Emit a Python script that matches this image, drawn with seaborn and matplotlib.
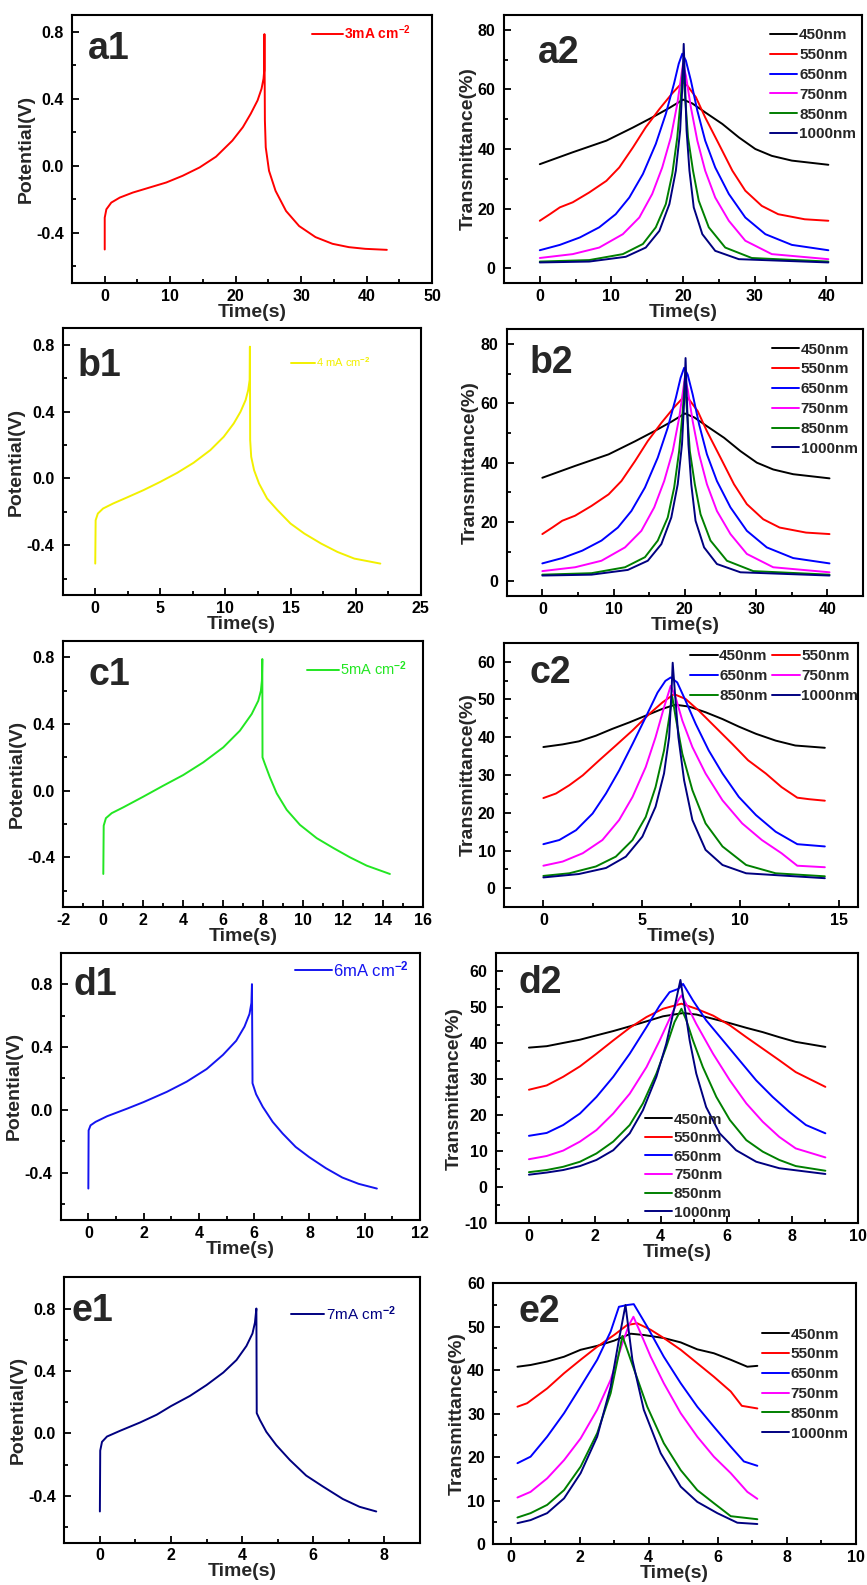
import numpy as np
import pandas as pd
import matplotlib
matplotlib.use("Agg")
import matplotlib.pyplot as plt
from matplotlib.ticker import MultipleLocator, FormatStrFormatter
import seaborn as sns

# ---------------- data ----------------
wavelengths = ["450nm", "550nm", "650nm", "750nm", "850nm", "1000nm"]
wl_colors = ["#000000", "#FF0000", "#0000FF", "#FF00FF", "#008000", "#000080"]

# left column: galvanostatic charge/discharge curves
a1_time = [0, 0.0, 0.25, 1.0, 2.3, 4.3, 6.85, 9.4, 11.9, 14.5, 17.0, 19.5, 21.1, 22.3, 23.35, 23.96, 24.26, 24.37,
           24.4,
           24.47, 24.6, 25.1, 26.1, 27.7, 29.7, 32.2, 34.8, 37.3, 39.8, 43.1]
a1_pot = [-0.50, -0.31, -0.26, -0.22, -0.19, -0.16, -0.13, -0.10, -0.06, -0.01, 0.054, 0.15, 0.23, 0.31, 0.39, 0.46, 0.52, 0.57,
          0.786,
          0.27, 0.11, -0.03, -0.15, -0.27, -0.36, -0.426, -0.466, -0.486, -0.496, -0.502]

b1_time = [0, 0.03, 0.2, 0.6, 1.37, 2.4, 3.7, 5.0, 6.3, 7.55, 8.84, 9.87, 10.64, 11.16, 11.55, 11.75, 11.86,
           11.88,
           11.9, 11.98, 12.2, 12.58, 13.2, 14.0, 15.0, 16.06, 17.35, 18.6, 19.9, 21.9]
b1_pot = [-0.51, -0.25, -0.21, -0.18, -0.15, -0.115, -0.07, -0.02, 0.034, 0.094, 0.17, 0.25, 0.33, 0.40, 0.47, 0.53, 0.59,
          0.79,
          0.23, 0.13, 0.05, -0.03, -0.12, -0.19, -0.27, -0.33, -0.39, -0.44, -0.48, -0.51]

c1_time = [0, 0.02, 0.13, 0.42, 1.0, 2, 3, 4, 5, 6, 6.83, 7.42, 7.75, 7.88, 7.93,
           7.95,
           7.96, 8.08, 8.33, 8.67, 9.17, 9.83, 10.67, 11.5, 12.33, 13.17, 14.33]
c1_pot = [-0.50, -0.21, -0.165, -0.135, -0.10, -0.036, 0.03, 0.094, 0.17, 0.26, 0.36, 0.46, 0.54, 0.60, 0.66,
          0.79,
          0.20, 0.16, 0.08, -0.016, -0.115, -0.205, -0.285, -0.344, -0.40, -0.45, -0.50]

d1_time = [0, 0.01, 0.08, 0.26, 0.68, 1.4, 2, 2.84, 3.56, 4.28, 4.87, 5.35, 5.65, 5.83, 5.9,
           5.92,
           5.94, 6.07, 6.31, 6.67, 7.03, 7.5, 7.99, 8.59, 9.19, 9.78, 10.44]
d1_pot = [-0.50, -0.13, -0.098, -0.076, -0.04, 0.008, 0.05, 0.115, 0.18, 0.26, 0.35, 0.44, 0.53, 0.61, 0.68,
          0.80,
          0.17, 0.10, 0.02, -0.076, -0.15, -0.235, -0.30, -0.37, -0.43, -0.47, -0.50]

e1_time = [0, 0.01, 0.06, 0.2, 0.57, 1.13, 1.6, 2, 2.53, 3, 3.47, 3.84, 4.12, 4.29, 4.36,
           4.40,
           4.41, 4.5, 4.68, 4.96, 5.34, 5.8, 6.27, 6.83, 7.3, 7.77]
e1_pot = [-0.50, -0.11, -0.054, -0.02, 0.017, 0.07, 0.12, 0.175, 0.24, 0.31, 0.39, 0.47, 0.56, 0.64, 0.71,
          0.80,
          0.13, 0.086, 0.01, -0.075, -0.17, -0.27, -0.34, -0.42, -0.47, -0.50]

# right column: in-situ transmittance (one list per wavelength)
a2_time = [
    [0, 4.6, 9.3, 13, 15.7, 18.1, 19.4, 20, 21.3, 23.1, 25.5, 27.8, 30.1, 32.4, 35.2, 40.3],
    [0, 1.4, 2.8, 4.6, 6.9, 9.3, 11.1, 13, 14.8, 16.7, 18.5, 19.7, 20, 20.6, 21.8, 23.1, 25, 26.9, 28.7, 31, 33.3, 37, 40.3],
    [0, 2.8, 5.6, 8.3, 10.6, 12.5, 14.4, 16.2, 17.6, 18.75, 19.4, 19.9, 20.4, 21.1, 22, 23.1, 24.5, 26.4, 28.7, 31.5, 35.2, 40.3],
    [0, 4.6, 8.3, 11.6, 13.9, 15.7, 17.1, 18.3, 19.2, 19.8, 20, 20.4, 21.1, 22, 23.1, 24.5, 26.4, 28.7, 32.4, 40.3],
    [0, 6.9, 11.6, 14.4, 16.2, 17.6, 18.5, 19.2, 19.7, 20, 20.3, 20.7, 21.4, 22.2, 23.6, 25.9, 29.6, 40.3],
    [0, 6.9, 12, 14.8, 16.7, 18.1, 19, 19.6, 19.9, 20.1, 20.3, 20.5, 20.9, 21.5, 22.7, 24.5, 27.8, 40.3],
]
a2_trans = [
    [34.9, 38.9, 42.8, 47.2, 50.6, 53.8, 55.7, 56.6, 55.3, 52.3, 48.4, 43.9, 40.0, 37.7, 36.1, 34.7],
    [15.9, 18.1, 20.4, 22.1, 25.4, 29.3, 33.8, 40.5, 47.3, 53.4, 58.7, 61.8, 62.4, 61.3, 57.4, 50.6, 41.7, 32.7, 26.0, 20.9, 18.1, 16.4, 15.9],
    [6.0, 7.8, 10.3, 13.7, 18.1, 23.7, 31.6, 41.7, 51.8, 62.0, 68.6, 72.0, 69.7, 63.0, 52.9, 42.8, 33.8, 24.9, 17.0, 11.4, 7.8, 6.0],
    [3.4, 4.7, 6.9, 11.4, 17.0, 24.9, 33.8, 43.9, 55.1, 65.2, 68.6, 64.7, 54.0, 42.8, 32.7, 23.7, 15.9, 9.2, 4.7, 3.0],
    [2.2, 2.7, 4.7, 8.1, 13.7, 21.5, 31.6, 43.9, 57.4, 67.5, 57.4, 43.9, 32.7, 22.6, 13.7, 6.9, 3.4, 2.2],
    [1.9, 2.2, 3.8, 6.9, 12.5, 21.5, 32.7, 46.2, 60.7, 75.3, 60.7, 46.2, 32.7, 20.4, 11.4, 5.8, 3.0, 1.9],
]
# panel b2 shows the same transmittance record as a2
b2_time = a2_time
b2_trans = a2_trans

c2_time = [
    [0, 0.98, 1.8, 2.67, 3.5, 4.36, 5.2, 6.05, 6.7, 7.4, 8.24, 9.1, 9.93, 10.8, 11.8, 12.8, 14.3],
    [0, 0.64, 1.32, 2, 2.84, 3.68, 4.53, 5.37, 6.05, 6.64, 7.23, 7.9, 8.75, 9.6, 10.4, 11.3, 12.1, 12.9, 13.5, 14.3],
    [0, 0.81, 1.66, 2.5, 3.18, 3.85, 4.53, 5.2, 5.8, 6.2, 6.47, 6.8, 7.23, 7.74, 8.4, 9.1, 9.93, 10.8, 11.8, 12.9, 14.3],
    [0, 0.98, 2, 3, 3.85, 4.53, 5.2, 5.7, 6.13, 6.47, 6.72, 7.06, 7.57, 8.24, 9.1, 10.1, 11.1, 12.1, 12.9, 14.3],
    [0, 1.32, 2.67, 3.68, 4.53, 5.2, 5.7, 6.13, 6.42, 6.55, 6.72, 7.06, 7.57, 8.24, 9.1, 10.3, 11.8, 14.3],
    [0, 1.8, 3.18, 4.19, 5.03, 5.7, 6.13, 6.39, 6.52, 6.57, 6.69, 6.86, 7.15, 7.57, 8.24, 9.1, 10.3, 14.3],
]
c2_trans = [
    [37.4, 38.1, 38.9, 40.4, 42.2, 43.9, 45.7, 47.5, 48.6, 48.1, 46.6, 44.8, 42.8, 40.9, 39.1, 37.8, 37.2],
    [23.9, 25.1, 27.3, 29.9, 33.9, 37.8, 41.8, 46.1, 49.2, 51.4, 50.1, 47.0, 42.6, 38.2, 33.9, 30.4, 26.8, 24.0, 23.6, 23.2],
    [11.7, 12.8, 15.4, 19.8, 25.1, 31.2, 38.2, 45.3, 51.8, 54.9, 55.8, 54.5, 49.6, 43.5, 36.5, 30.4, 24.2, 19.4, 15.0, 11.7, 11.1],
    [6.0, 7.1, 9.3, 12.8, 18.1, 24.2, 32.1, 40.0, 47.9, 53.6, 50.5, 44.4, 37.4, 30.4, 23.3, 17.2, 12.8, 9.3, 6.0, 5.6],
    [3.3, 4.0, 5.8, 8.4, 12.8, 18.9, 26.8, 36.5, 46.1, 50.7, 45.3, 35.6, 26.0, 17.2, 11.1, 6.2, 4.0, 3.2],
    [2.9, 3.8, 5.4, 8.4, 13.7, 21.6, 30.4, 40.0, 53.2, 59.7, 51.4, 40.0, 28.6, 18.1, 10.2, 6.2, 4.0, 2.7],
]

d2_time = [
    [0, 0.54, 1.04, 1.55, 2.05, 2.56, 3.06, 3.57, 4.07, 4.68, 5.08, 5.59, 6.1, 6.6, 7.1, 7.6, 8.1, 9.0],
    [0, 0.54, 1.04, 1.55, 2.05, 2.56, 3.06, 3.57, 4.07, 4.63, 5.08, 5.59, 6.1, 6.6, 7.1, 7.6, 8.1, 9.0],
    [0, 0.54, 1.04, 1.55, 2.05, 2.56, 3.06, 3.57, 3.97, 4.27, 4.53, 4.68, 4.98, 5.38, 5.89, 6.39, 6.9, 7.4, 7.9, 8.41, 9.0],
    [0, 0.54, 1.04, 1.55, 2.05, 2.56, 3.06, 3.57, 3.97, 4.27, 4.53, 4.63, 4.83, 5.08, 5.59, 6.1, 6.6, 7.1, 7.6, 8.1, 9.0],
    [0, 0.54, 1.04, 1.55, 2.05, 2.56, 3.06, 3.46, 3.87, 4.17, 4.42, 4.63, 4.78, 4.98, 5.28, 5.69, 6.1, 6.6, 7.1, 7.6, 8.1, 9.0],
    [0, 0.54, 1.04, 1.55, 2.05, 2.56, 3.06, 3.46, 3.87, 4.17, 4.42, 4.6, 4.73, 4.88, 5.08, 5.38, 5.79, 6.29, 6.9, 7.6, 9.0],
]
d2_trans = [
    [38.8, 39.2, 40.1, 41.0, 42.2, 43.4, 44.7, 46.1, 47.5, 48.4, 48.0, 46.8, 45.6, 44.3, 43.1, 41.7, 40.4, 39.0],
    [27.1, 28.3, 30.7, 33.6, 37.1, 40.8, 44.3, 47.3, 49.6, 51.0, 49.6, 47.7, 45.0, 41.7, 38.5, 35.3, 32.0, 27.9],
    [14.3, 15.1, 17.3, 20.5, 25.1, 30.7, 37.1, 44.5, 50.5, 54.2, 55.1, 56.5, 51.9, 46.4, 40.8, 35.3, 29.7, 25.1, 21.0, 17.3, 15.0],
    [7.8, 8.7, 10.2, 12.7, 15.9, 20.5, 26.0, 33.4, 40.8, 46.8, 51.9, 53.3, 50.0, 45.4, 37.1, 29.7, 23.3, 18.2, 14.0, 10.8, 8.3],
    [4.2, 4.8, 5.7, 7.1, 9.4, 12.7, 17.3, 23.3, 31.6, 39.0, 45.9, 49.6, 46.4, 40.8, 33.4, 25.1, 18.7, 13.1, 9.9, 7.6, 5.9, 4.6],
    [3.5, 4.1, 4.8, 5.9, 7.6, 10.3, 15.0, 21.4, 30.7, 39.9, 50.0, 57.6, 50.0, 40.8, 31.6, 22.3, 15.0, 10.3, 7.1, 5.3, 3.7],
]

e2_time = [
    [0.2, 0.58, 1.06, 1.55, 2.03, 2.51, 3.0, 3.48, 3.86, 4.44, 4.93, 5.41, 5.89, 6.38, 6.86, 7.15],
    [0.2, 0.48, 1.06, 1.55, 2.03, 2.51, 3.0, 3.38, 3.67, 4.06, 4.44, 4.93, 5.41, 5.89, 6.38, 6.7, 7.15],
    [0.2, 0.58, 1.06, 1.55, 2.03, 2.51, 2.9, 3.14, 3.38, 3.57, 3.96, 4.44, 4.93, 5.41, 5.89, 6.38, 6.76, 7.15],
    [0.2, 0.58, 1.06, 1.55, 2.03, 2.51, 2.9, 3.24, 3.43, 3.56, 3.77, 4.06, 4.44, 4.93, 5.41, 5.89, 6.38, 6.86, 7.15],
    [0.2, 0.58, 1.06, 1.55, 2.03, 2.51, 2.9, 3.14, 3.24, 3.48, 3.96, 4.44, 4.93, 5.41, 5.89, 6.38, 7.15],
    [0.2, 0.58, 1.06, 1.55, 2.03, 2.51, 2.9, 3.14, 3.33, 3.53, 3.86, 4.35, 4.93, 5.41, 5.99, 6.57, 7.15],
]
e2_trans = [
    [40.8, 41.2, 42.0, 43.1, 44.7, 45.6, 46.8, 48.4, 48.1, 47.4, 46.4, 44.8, 43.9, 42.4, 40.8, 41.0],
    [31.6, 32.4, 35.8, 39.3, 42.4, 45.4, 48.1, 50.4, 50.8, 49.3, 47.4, 44.7, 41.6, 38.5, 35.1, 31.8, 31.2],
    [18.6, 20.1, 24.7, 30.1, 36.2, 42.4, 48.9, 54.6, 55.0, 55.2, 50.0, 43.1, 37.0, 31.6, 27.0, 22.4, 19.0, 18.0],
    [10.7, 12.0, 15.1, 19.3, 24.3, 30.9, 37.8, 46.2, 50.4, 52.3, 48.5, 43.1, 37.0, 30.1, 24.7, 20.1, 16.3, 12.0, 10.4],
    [6.1, 7.1, 9.0, 12.4, 17.8, 25.5, 34.7, 43.9, 47.9, 42.4, 31.6, 23.2, 17.0, 12.4, 9.4, 6.4, 5.7],
    [4.8, 5.5, 7.1, 10.5, 16.3, 24.7, 36.2, 47.0, 55.0, 42.4, 30.9, 20.9, 13.2, 9.7, 7.1, 4.9, 4.6],
]

# ---------------- style ----------------
sns.set_theme(style="ticks")
plt.rcParams.update({
    "font.family": ["Liberation Sans", "DejaVu Sans"],
    "font.weight": "bold",
    "axes.labelweight": "bold",
    "axes.unicode_minus": False,
    "mathtext.fontset": "custom",
    "mathtext.rm": "Liberation Sans",
    "mathtext.bf": "Liberation Sans:bold",
    "mathtext.default": "rm",
    "axes.linewidth": 1.5,
    "axes.edgecolor": "black",
    "lines.linewidth": 1.4,
    "lines.solid_joinstyle": "round",
})

W, H = 867, 1585
fig = plt.figure(figsize=(W / 100, H / 100), dpi=100)
fig.patch.set_facecolor("white")


def make_ax(l, t, r, b):
    return fig.add_axes([l / W, 1 - b / H, (r - l) / W, (b - t) / H])


def style_ax(ax, xlim, ylim, xmaj, xmin, ymaj, ymin, yfmt, ylabel, tag, tagpos):
    ax.set_xlim(*xlim)
    ax.set_ylim(*ylim)
    ax.xaxis.set_major_locator(MultipleLocator(xmaj))
    ax.xaxis.set_minor_locator(MultipleLocator(xmin))
    ax.yaxis.set_major_locator(MultipleLocator(ymaj))
    ax.yaxis.set_minor_locator(MultipleLocator(ymin))
    ax.yaxis.set_major_formatter(FormatStrFormatter(yfmt))
    ax.xaxis.set_major_formatter(FormatStrFormatter("%g"))
    ax.tick_params(which="both", direction="in", top=False, right=False, width=1.3, colors="black")
    ax.tick_params(which="major", length=5, labelsize=11.5)
    ax.tick_params(which="minor", length=3)
    ax.tick_params(axis="y", which="major", pad=6)
    ax.tick_params(axis="x", which="major", pad=4)
    for lab in ax.get_xticklabels() + ax.get_yticklabels():
        lab.set_fontweight("bold")
    ax.set_xlabel("Time(s)", fontsize=14, fontweight="bold", labelpad=0)
    ax.set_ylabel(ylabel, fontsize=14, fontweight="bold", labelpad=1)
    for sp in ax.spines.values():
        sp.set_linewidth(1.5)
        sp.set_color("black")
    ax.text(tagpos[0], tagpos[1], tag, transform=ax.transAxes, fontsize=27,
            fontweight="bold", va="top", ha="left")


# ---------------- left column ----------------
left_panels = [
    ("a1", a1_time, a1_pot, "#FF0000", "3mA cm$^{\\mathbf{-2}}$", "bold", 10,
     (72, 15, 432, 283), (-5, 50), (-0.7, 0.9), 10, 5, (0.667, 0.933), (0.044, 0.94)),
    ("b1", b1_time, b1_pot, "#F2F000", "4 mA cm$^{-2}$", "normal", 8,
     (62.7, 328.3, 420.7, 595.3), (-2.5, 25), (-0.7, 0.9), 5, 2.5, (0.637, 0.875), (0.04, 0.925)),
    ("c1", c1_time, c1_pot, "#22E622", "5mA cm$^{-2}$", "normal", 10.5,
     (63.3, 640.7, 423.3, 907.3), (-2, 16), (-0.7, 0.9), 2, 1, (0.676, 0.896), (0.069, 0.94)),
    ("d1", d1_time, d1_pot, "#1414F0", "6mA cm$^{-2}$", "normal", 12,
     (60.7, 952.7, 420, 1220), (-1, 12), (-0.7, 1.0), 2, 1, (0.652, 0.938), (0.035, 0.948)),
    ("e1", e1_time, e1_pot, "#000080", "7mA cm$^{-2}$", "normal", 11,
     (64.3, 1277.3, 420, 1542.7), (-1, 9), (-0.7, 1.0), 2, 1, (0.636, 0.864), (0.021, 0.94)),
]

for tag, tt, vv, col, lab, lw_, fs, box, xl, yl, xmaj, xmin, legpos, tagpos in left_panels:
    ax = make_ax(*box)
    sns.lineplot(x=tt, y=vv, color=col, sort=False, estimator=None, ax=ax, label=lab, linewidth=1.4)
    style_ax(ax, xl, yl, xmaj, xmin, 0.4, 0.2, "%.1f", "Potential(V)", tag, tagpos)
    h, l = ax.get_legend_handles_labels()
    ax.legend(h, l, loc="center left", bbox_to_anchor=legpos, frameon=False,
              borderpad=0, borderaxespad=0, handlelength=2.2, handletextpad=0.1,
              labelcolor="linecolor", prop={"weight": lw_, "size": fs,
                                            "family": ["Liberation Sans", "DejaVu Sans"]})

# ---------------- right column ----------------
def long_frame(times, trans):
    rows = []
    for wl, tt, vv in zip(wavelengths, times, trans):
        for t, v in zip(tt, vv):
            rows.append((wl, t, v))
    return pd.DataFrame(rows, columns=["wavelength", "time", "trans"])


right_panels = [
    ("a2", a2_time, a2_trans, (504, 15, 862, 283), (-5, 45), (-5, 85), 10, 5, 20, 10,
     1, (0.743, 0.95), 0.38, (0.095, 0.925)),
    ("b2", b2_time, b2_trans, (506.7, 329.3, 863, 596), (-5, 45), (-5, 85), 10, 5, 20, 10,
     1, (0.744, 0.95), 0.38, (0.065, 0.94)),
    ("c2", c2_time, c2_trans, (504, 642.7, 858.3, 907.3), (-2, 16), (-5, 65), 5, 2.5, 10, 5,
     2, (0.525, 0.975), 0.38, (0.073, 0.952)),
    ("d2", d2_time, d2_trans, (496, 953.3, 858.3, 1223.3), (-1, 10), (-10, 65), 2, 1, 10, 5,
     1, (0.411, 0.41), 0.3, (0.062, 0.958)),
    ("e2", e2_time, e2_trans, (493.3, 1283.3, 855.7, 1544), (-0.5, 10), (0, 60), 2, 1, 10, 5,
     1, (0.741, 0.83), 0.38, (0.069, 0.96)),
]

pal = dict(zip(wavelengths, wl_colors))
for tag, times, trans, box, xl, yl, xmaj, xmin, ymaj, ymin, ncol, legpos, lsp, tagpos in right_panels:
    ax = make_ax(*box)
    df = long_frame(times, trans)
    sns.lineplot(data=df, x="time", y="trans", hue="wavelength", hue_order=wavelengths,
                 palette=pal, sort=False, estimator=None, ax=ax, linewidth=1.4)
    style_ax(ax, xl, yl, xmaj, xmin, ymaj, ymin, "%g", "Transmittance(%)", tag, tagpos)
    h, l = ax.get_legend_handles_labels()
    if ncol == 2:
        order = [0, 2, 4, 1, 3, 5]
        h = [h[i] for i in order]
        l = [l[i] for i in order]
    ax.legend(h, l, loc="upper left", bbox_to_anchor=legpos, frameon=False, ncol=ncol,
              borderpad=0, borderaxespad=0, handlelength=1.8, handletextpad=0.1,
              labelspacing=lsp, columnspacing=0.3,
              prop={"weight": "bold", "size": 11,
                    "family": ["Liberation Sans", "DejaVu Sans"]})

fig.savefig("out.png", dpi=100, facecolor="white")
